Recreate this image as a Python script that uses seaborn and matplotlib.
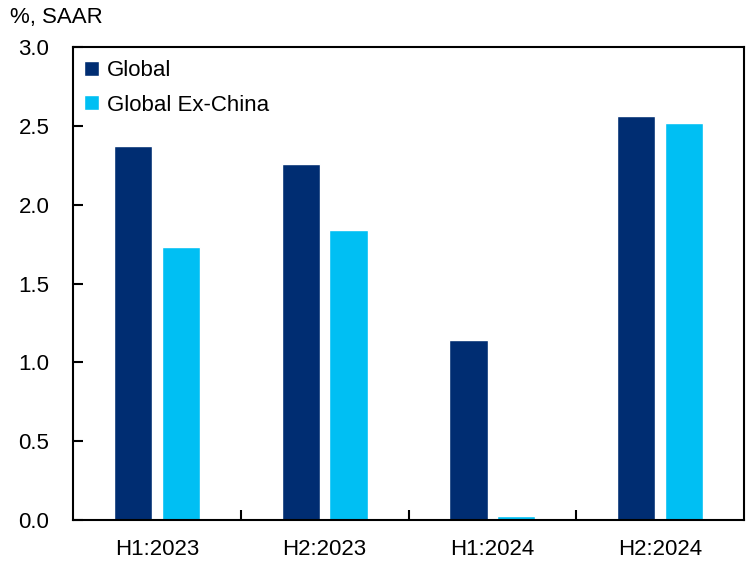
import pandas as pd
import numpy as np
import matplotlib
matplotlib.use('Agg')
import matplotlib.pyplot as plt
import seaborn as sns
from matplotlib.patches import Patch

# data
periods = ['H1:2023', 'H2:2023', 'H1:2024', 'H2:2024']
global_vals = [2.37, 2.255, 1.14, 2.56]
ex_china_vals = [1.73, 1.84, 0.025, 2.515]
series_names = ['Global', 'Global Ex-China']
colors = ['#002D72', '#00BFF3']

df = pd.DataFrame({
    'Period': periods * 2,
    'Value': global_vals + ex_china_vals,
    'Series': [series_names[0]] * 4 + [series_names[1]] * 4,
})

sns.set_style('white')
plt.rcParams['font.family'] = ['Liberation Sans', 'DejaVu Sans']
plt.rcParams['text.color'] = 'black'
plt.rcParams['xtick.color'] = 'black'
plt.rcParams['ytick.color'] = 'black'
FS = 16

fig = plt.figure(figsize=(7.53, 5.76), dpi=100)
ax = fig.add_axes([73 / 753, 1 - 520 / 576, 671 / 753, 473 / 576])

sns.barplot(data=df, x='Period', y='Value', hue='Series', palette=colors,
            width=0.57, gap=0.2, saturation=1, ax=ax, legend=False)

ax.set_ylim(0, 3.0)
ax.set_xlim(-0.5, 3.5)
yt = np.arange(0, 3.01, 0.5)
ax.set_yticks(yt)
ax.set_yticklabels([f'{v:.1f}' for v in yt], fontsize=FS)
# inward ticks sit between the categories, labels are centred under the bars
ax.set_xticks([0.5, 1.5, 2.5])
ax.set_xticklabels([])
ax.set_xticks(range(4), minor=True)
ax.set_xticklabels(periods, minor=True, fontsize=FS)
ax.tick_params(axis='x', which='major', bottom=True, direction='in', length=7, width=1.5, color='black')
ax.tick_params(axis='x', which='minor', bottom=True, length=0, pad=14, labelcolor='black')
ax.tick_params(axis='y', left=True, direction='in', length=7, width=1.5, color='black', pad=17, labelcolor='black')
ax.set_xlabel('')
ax.set_ylabel('')
for s in ax.spines.values():
    s.set_visible(True)
    s.set_color('black')
    s.set_linewidth(1.5)

handles = [Patch(facecolor=c, label=n) for c, n in zip(colors, series_names)]
ax.legend(handles=handles, loc='upper left', frameon=False, fontsize=FS,
          handlelength=0.65, handleheight=0.65, handletextpad=0.35,
          bbox_to_anchor=(-0.003, 1.0), borderaxespad=0.2, labelspacing=0.6)

fig.text(10 / 753, 1 - 18 / 576, '%, SAAR', fontsize=FS, va='center', ha='left', color='black')

fig.savefig('out.png', dpi=100)
